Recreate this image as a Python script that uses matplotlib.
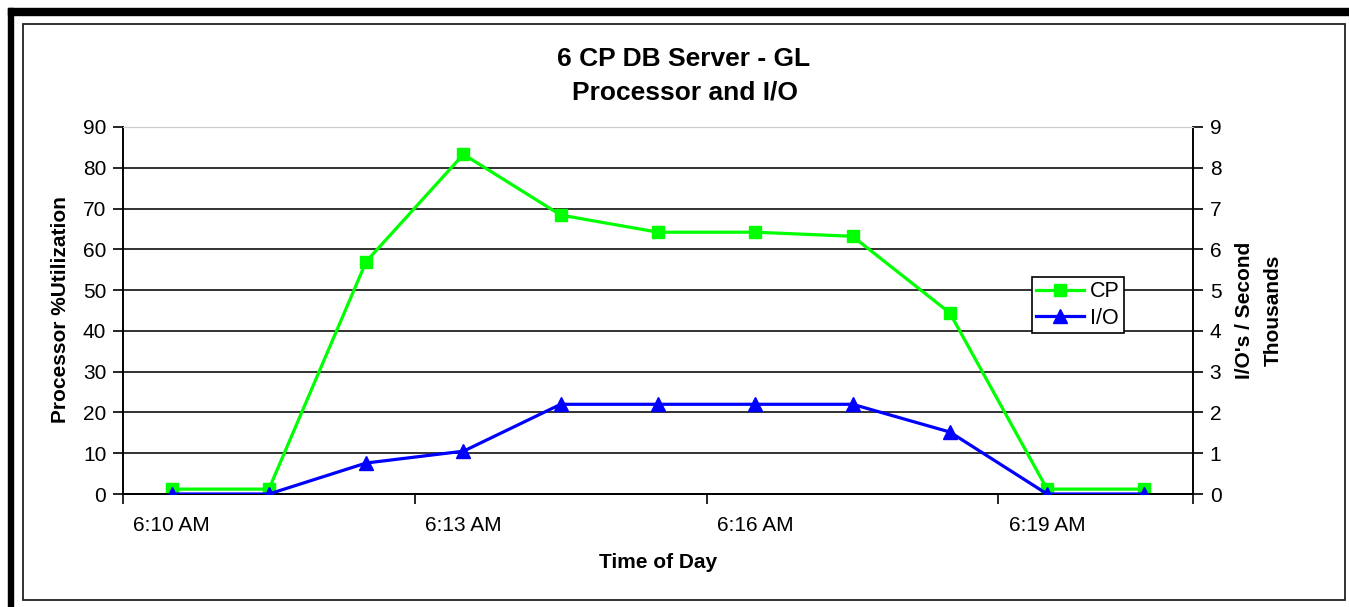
import matplotlib.pyplot as plt
from matplotlib.patches import Rectangle

plt.rcParams['font.family'] = ['Liberation Sans', 'DejaVu Sans']

# datos
horas = ['6:10 AM', '6:11 AM', '6:12 AM', '6:13 AM', '6:14 AM', '6:15 AM',
         '6:16 AM', '6:17 AM', '6:18 AM', '6:19 AM', '6:20 AM']
cp = [1.2, 1.2, 57, 83.3, 68.4, 64.2, 64.2, 63.2, 44.4, 1.2, 1.2]
io_miles = [0.0, 0.0, 0.76, 1.05, 2.2, 2.2, 2.2, 2.2, 1.52, 0.0, 0.0]

W, H = 1349, 607
fig = plt.figure(figsize=(W / 100, H / 100), dpi=100)

# marcos exteriores
fig.patches.append(Rectangle((8 / W, 1 - 15 / H), 1 - 8 / W, 7 / H,
                             transform=fig.transFigure, color='black', zorder=0))
fig.patches.append(Rectangle((8 / W, 0), 5 / W, 1 - 8 / H,
                             transform=fig.transFigure, color='black', zorder=0))
fig.patches.append(Rectangle((22.5 / W, 1 - 600 / H), (1345 - 22.5) / W, (600 - 23.5) / H,
                             transform=fig.transFigure, fill=False, edgecolor='#222222',
                             linewidth=1.3, zorder=0))

x0, x1, y0, y1 = 123, 1193, 127, 494
ax = fig.add_axes([x0 / W, 1 - y1 / H, (x1 - x0) / W, (y1 - y0) / H])
ax2 = ax.twinx()

x = list(range(len(horas)))
ax.set_xlim(-0.5, len(horas) - 0.5)
ax.set_ylim(0, 90)
ax2.set_ylim(0, 9)

# lineas de rejilla
for v in range(10, 90, 10):
    ax.axhline(v, color='#222222', linewidth=1.3, zorder=1)

l1, = ax.plot(x, cp, color='#00FF00', marker='s', markersize=8.5, linewidth=2.3,
              label='CP', zorder=3)
l2, = ax2.plot(x, io_miles, color='#0000FF', marker='^', markersize=10, linewidth=2.3,
               label='I/O', zorder=3)
ax2.set_zorder(ax.get_zorder() + 1)
ax2.patch.set_visible(False)

ax.set_yticks(range(0, 91, 10))
ax2.set_yticks(range(0, 10))
ax.set_xticks([-0.5, 2.5, 5.5, 8.5, 10.5])
ax.set_xticklabels([])
ax.set_xticks([0, 3, 6, 9], minor=True)
ax.set_xticklabels([horas[i] for i in [0, 3, 6, 9]], minor=True)
ax.tick_params(axis='x', which='minor', length=0, pad=16, labelsize=15)
ax.tick_params(axis='x', which='major', length=7, width=1.2, direction='out')
ax.tick_params(axis='y', length=7, width=1.2, direction='out', labelsize=15, pad=5)
ax2.tick_params(axis='y', length=7, width=1.2, direction='out', labelsize=15, pad=5)

for a in (ax, ax2):
    a.spines['top'].set_color('#cccccc')
    a.spines['left'].set_linewidth(1.2)
    a.spines['right'].set_linewidth(1.2)
    a.spines['bottom'].set_linewidth(1.3)

fig.text(684 / W, 1 - 59 / H, '6 CP DB Server - GL', ha='center', va='center',
         fontsize=19, fontweight='bold')
fig.text(685 / W, 1 - 93 / H, 'Processor and I/O', ha='center', va='center',
         fontsize=19, fontweight='bold')
fig.text(60 / W, 1 - 310 / H, 'Processor %Utilization', rotation=90, ha='center',
         va='center', fontsize=15, fontweight='bold')
fig.text(1245 / W, 1 - 310 / H, "I/O's / Second", rotation=90, ha='center',
         va='center', fontsize=15, fontweight='bold')
fig.text(1273 / W, 1 - 310 / H, 'Thousands', rotation=90, ha='center',
         va='center', fontsize=15, fontweight='bold')
fig.text((x0 + x1) / 2 / W, 1 - 563 / H, 'Time of Day', ha='center', va='center',
         fontsize=15, fontweight='bold')

leg = fig.legend(handles=[l1, l2], loc='upper left',
                 bbox_to_anchor=(1032 / W, 1 - 277 / H), fontsize=15.5,
                 fancybox=False, framealpha=1, edgecolor='black',
                 borderpad=0.2, labelspacing=0.25, handlelength=2.2,
                 handletextpad=0.3, borderaxespad=0)
leg.get_frame().set_linewidth(1.2)

fig.savefig('out.png', dpi=100, facecolor='white')
